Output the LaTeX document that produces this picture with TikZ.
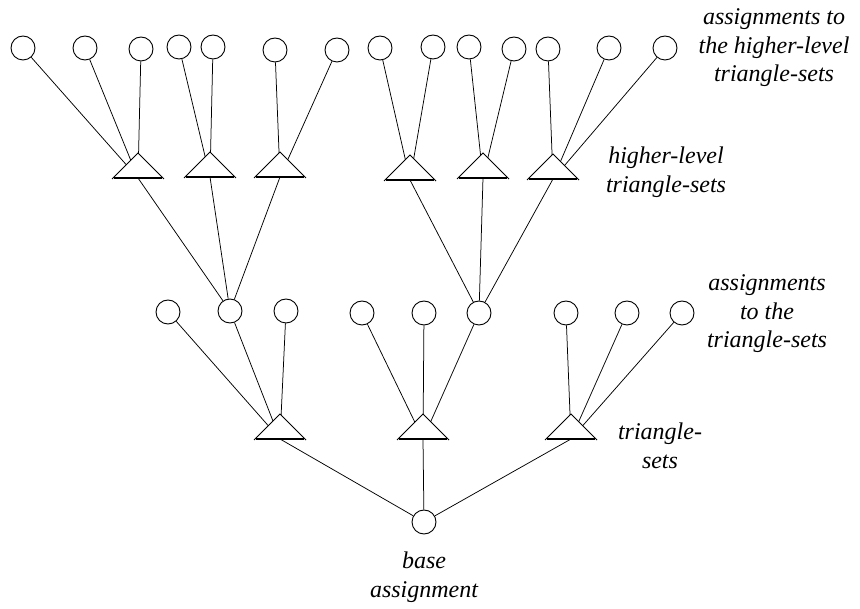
\documentclass[tikz,border=0pt]{standalone}
\usepackage{fontspec}
\setmainfont{Liberation Serif}
\usetikzlibrary{calc}
\begin{document}
\begin{tikzpicture}[x=1pt,y=-1pt,
  circ/.style={circle, draw, fill=white, minimum size=24pt, inner sep=0pt, line width=0.9pt},
  link/.style={line width=0.75pt},
  lbl/.style={align=center, font=\fontsize{24}{28.5}\selectfont\itshape, inner sep=0pt}]
\useasboundingbox (0,0) rectangle (860,609);
% top circles
\foreach \n/\x/\y in {1/23/48,2/85/48,3/141/49,4/179/47,5/213/47,6/275/50,7/337/50,8/380/48,9/433/47,10/469/47,11/514/49,12/548/49,13/609/48,14/665/48}
  \node[circ] (a\n) at (\x,\y) {};
% higher-level triangle base centres
\foreach \n/\x/\y in {1/138/178,2/210/177,3/280/177,4/410/180,5/483/178,6/553/179}
  \coordinate (h\n) at (\x,\y);
% middle circles
\foreach \n/\x/\y in {1/168/312,2/230/311,3/286/311,4/362/313,5/424/313,6/479/313,7/566/313,8/627/313,9/682/313}
  \node[circ] (m\n) at (\x,\y) {};
% lower triangle base centres
\coordinate (t1) at (280,439);
\coordinate (t2) at (423,439);
\coordinate (t3) at (571,439);
% base circle
\node[circ] (b) at (424,522) {};
% connectors
\foreach \c/\t in {1/1,2/1,3/1,4/2,5/2,6/3,7/3,8/4,9/4,10/5,11/5,12/6,13/6,14/6}
  \draw[link] (a\c) -- (h\t);
\foreach \t in {1,2,3} \draw[link] (h\t) -- (m2);
\foreach \t in {4,5,6} \draw[link] (h\t) -- (m6);
\foreach \c in {1,2,3} \draw[link] (m\c) -- (t1);
\foreach \c in {4,5,6} \draw[link] (m\c) -- (t2);
\foreach \c in {7,8,9} \draw[link] (m\c) -- (t3);
\foreach \t in {1,2,3} \draw[link] (t\t) -- (b);
% triangles
\foreach \t in {h1,h2,h3,h4,h5,h6,t1,t2,t3} {
  \fill[white] ($(\t)+(-25,0)$) -- ($(\t)+(0,-25)$) -- ($(\t)+(25,0)$) -- cycle;
  \draw[link] ($(\t)+(-26,1)$) -- ($(\t)+(0,-25)$) -- ($(\t)+(26,1)$);
  \draw[line width=1.2pt] ($(\t)+(-24,0)$) -- ($(\t)+(24,0)$);
}
% labels
\node[lbl] (l1) at (774,48) {assignments to\\the higher-level\\triangle-sets};
\node[lbl] (l2) at (666,172) {higher-level\\triangle-sets};
\node[lbl] (l3) at (767,314) {assignments\\to the\\triangle-sets};
\node[lbl] (l4) at (660,446) {triangle-\\sets};
\node[lbl] (l5) at (424,577) {base\\assignment};
\end{tikzpicture}
\end{document}
